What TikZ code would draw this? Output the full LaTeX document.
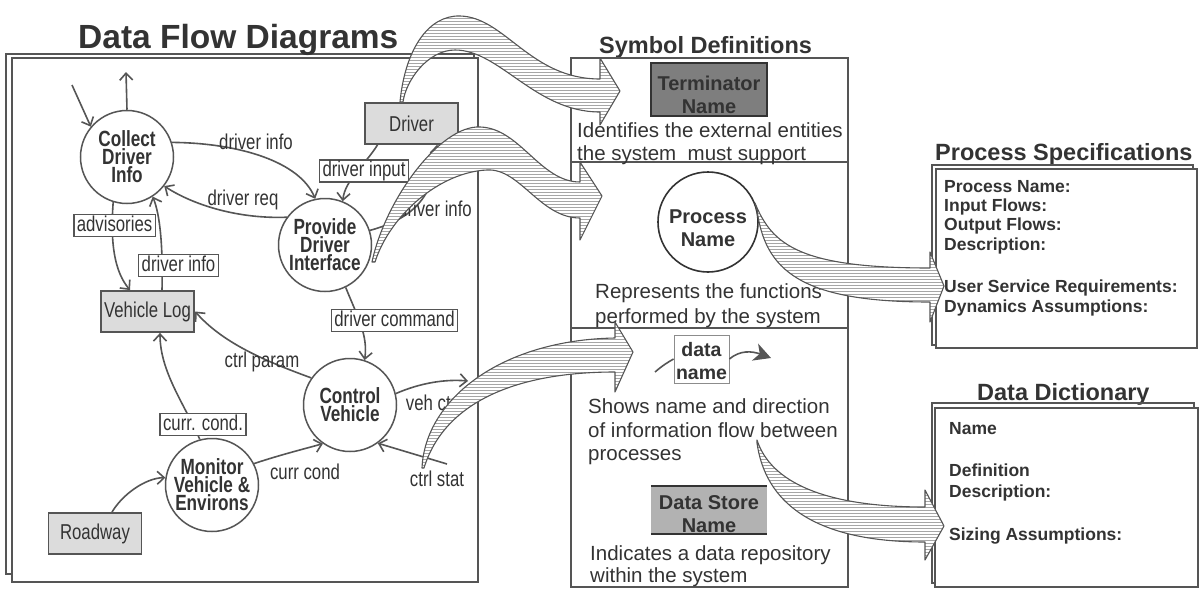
\documentclass[tikz,border=0pt]{standalone}
\usepackage{fontspec}
\setmainfont{Liberation Sans}
\newfontfamily\narrowfont[FakeStretch=0.78]{Liberation Sans}
\usetikzlibrary{arrows.meta,patterns,calc}

\definecolor{ink}{HTML}{333333}
\definecolor{lineg}{HTML}{555555}
\definecolor{boxg}{HTML}{DCDCDC}
\definecolor{termg}{HTML}{7E7E7E}
\definecolor{storeg}{HTML}{B2B2B2}

\tikzset{
  frame/.style={draw=lineg, line width=1.5pt},
  heading/.style={font=\bfseries\fontsize{23.5}{26}\selectfont, text=ink, inner sep=0pt, anchor=base west},
  proc/.style={circle, draw=lineg, line width=1.5pt, fill=white, minimum size=93pt, inner sep=0pt,
    font=\narrowfont\bfseries\fontsize{22}{18}\selectfont, align=center, text=ink},
  term/.style={rectangle, draw=lineg, line width=1.8pt, fill=boxg, minimum width=93pt, minimum height=41pt,
    font=\narrowfont\fontsize{21.5}{22}\selectfont, text=ink},
  flowlbl/.style={rectangle, draw=lineg, line width=1.5pt, fill=white, inner xsep=3pt, inner ysep=1.5pt,
    text height=15pt, text depth=4pt, font=\narrowfont\fontsize{21.5}{22}\selectfont, text=ink},
  freelbl/.style={inner sep=0pt, font=\narrowfont\fontsize{21.5}{22}\selectfont, text=ink},
  flow/.style={draw=lineg, line width=1.6pt, -{Straight Barb[length=7pt,width=13pt,line width=1.6pt]}},
  desc/.style={inner sep=0pt, anchor=base west, font=\fontsize{20.5}{23}\selectfont, text=ink},
  spec/.style={inner sep=0pt, anchor=base west, font=\bfseries\fontsize{17.5}{20}\selectfont, text=ink},
  symtext/.style={font=\bfseries\fontsize{20}{23}\selectfont, align=center, text=ink, inner sep=0pt},
  bigarrow/.style={draw=lineg, line width=1.1pt, line join=round, preaction={fill=white},
    pattern=horizontal lines, pattern color=black!35},
}

\begin{document}
\begin{tikzpicture}[x=1pt,y=-1pt]
\useasboundingbox (0,0) rectangle (1203,589);

% ---------- Data flow diagram sheet ----------
\draw[frame] (6,54) rectangle (474,574);
\draw[frame, fill=white] (12,58) rectangle (478,582);
\node[heading, font=\bfseries\fontsize{33.5}{36}\selectfont] (dfdtitle) at (78,48) {Data Flow Diagrams};

% processes
\node[proc] (cdi) at (127,157) {Collect\\Driver\\Info};
\node[proc] (pdi) at (325,245) {Provide\\Driver\\Interface};
\node[proc] (cv)  at (350,405) {Control\\Vehicle};
\node[proc] (mve) at (212,485) {Monitor\\Vehicle \&\\Environs};

% terminators and store
\node[term] (drv)  at (411.5,123.5) {Driver};
\node[term] (vlog) at (147.5,311.5) {Vehicle Log};
\node[term] (road) at (95,533.5) {Roadway};

% loose flow ends
\coordinate (cin)  at (72,85);
\coordinate (cout) at (126,72);
\coordinate (stat) at (447,464);
\coordinate (veh)  at (468,381);

% flows
\draw[flow] (cin) -- (cdi.140);
\draw[flow] (cdi.90) -- (cout);
\draw[flow] (cdi.18) .. controls (240,143) and (300,162) .. (pdi.102);
\draw[flow] (pdi.144) .. controls (240,219) and (195,206) .. (cdi.-38);
\draw[flow] ($(drv.south)+(-34,0)$) .. controls (365,165) and (345,180) .. (pdi.68);
\draw[flow] (pdi.18) .. controls (415,218) and (436,195) .. ($(drv.south)+(25.5,0)$);
\draw[flow] (cdi.-107) .. controls (110,245) and (115,272) .. ($(vlog.north)+(-17.5,0)$);
\draw[flow] ($(vlog.north)+(14.5,0)$) .. controls (163,245) and (160,215) .. (cdi.-57);
\draw[flow] (pdi.-64) .. controls (358,318) and (368,335) .. (cv.72);
\draw[flow] (cv.145) .. controls (262,360) and (222,342) .. (vlog.east);
\draw[flow] (mve.105) .. controls (185,405) and (160,372) .. ($(vlog.south)+(12.5,0)$);
\draw[flow] ($(road.north)+(17,0)$) .. controls (122,495) and (145,478) .. (mve.171);
\draw[flow] (mve.27) .. controls (280,455) and (300,450) .. (cv.-125);
\draw[flow] (stat) -- (cv.-54);
\draw[flow] (cv.14) .. controls (420,383) and (445,379) .. (veh);

% flow labels
\node[freelbl] (fdi1) at (256,142) {driver info};
\node[freelbl] (frq)  at (243,200) {driver req};
\node[freelbl] (fdi2) at (435,209) {driver info};
\node[freelbl] (fcp)  at (262,362) {ctrl param};
\node[freelbl] (fvc)  at (433,403) {veh ctrl};
\node[freelbl] (fcc)  at (305,472) {curr cond};
\node[freelbl] (fcs)  at (437,479) {ctrl stat};
\node[flowlbl] (bdin) at (364,171) {driver input};
\node[flowlbl] (badv) at (114.5,225.5) {advisories};
\node[flowlbl] (bdi)  at (178.5,265.5) {driver info};
\node[flowlbl] (bdc)  at (394.5,320.5) {driver command};
\node[flowlbl] (bcc)  at (203,424.5) {curr. cond.};

% ---------- Symbol definitions ----------
\node[heading] (symtitle) at (599,53) {Symbol Definitions};
\draw[frame, line width=1.2pt] (571,58) rectangle (848,587);
\draw[frame, line width=1.2pt] (571,162) -- (848,162);
\draw[frame, line width=1.2pt] (571,328) -- (848,328);

\node[rectangle, draw=ink, line width=1.6pt, fill=termg, minimum width=116pt, minimum height=53pt] (tbox) at (709,89.5) {};
\node[symtext] (ttxt) at (709,95) {Terminator\\Name};
\node[desc] (d1a) at (577,137) {Identifies the external entities};
\node[desc] (d1b) at (577,160) {the system\ \ must support};

\node[circle, draw=ink, line width=1.6pt, fill=white, minimum size=100pt, inner sep=0pt] (pcirc) at (708,222) {};
\node[symtext] (ptxt) at (708,228) {Process\\Name};
\node[desc] (d2a) at (595,298) {Represents the functions};
\node[desc] (d2b) at (595,323) {performed by the system};

\node[rectangle, draw=black!45, line width=0.8pt, fill=white, minimum width=55pt, minimum height=48pt] (dbox) at (701.5,359) {};
\node[symtext, font=\bfseries\fontsize{19.5}{23}\selectfont] (dtxt) at (701.5,361) {data\\name};
\coordinate (din) at (655,372);
\coordinate (dout) at (771,358);
\draw[draw=lineg, line width=1.6pt] (din) .. controls (662,366) and (668,362) .. (dbox.west);
\draw[draw=lineg, line width=1.6pt, -{Stealth[length=17pt,width=18pt,inset=5pt]}]
  (dbox.east) .. controls (740,350) and (752,351) .. (dout);
\node[desc] (d3a) at (588,413) {Shows name and direction};
\node[desc] (d3b) at (588,437) {of information flow between};
\node[desc] (d3c) at (588,460) {processes};

\node[rectangle, fill=storeg, minimum width=116pt, minimum height=48pt] (sbox) at (709,510) {};
\draw[draw=ink, line width=2pt] (sbox.north west) -- (sbox.north east);
\draw[draw=ink, line width=2pt] (sbox.south west) -- (sbox.south east);
\node[symtext] (stxt) at (709,514) {Data Store\\Name};
\node[desc] (d4a) at (590,560) {Indicates a data repository};
\node[desc] (d4b) at (590,582) {within the system};

% ---------- Process specifications ----------
\node[heading] (pstitle) at (935,160) {Process Specifications};
\draw[frame, line width=1.2pt] (932,165) rectangle (1193,345);
\draw[frame, line width=1.2pt, fill=white] (936,169) rectangle (1197,348);
\node[spec] (ps1) at (944,192) {Process Name:};
\node[spec] (ps2) at (944,211) {Input Flows:};
\node[spec] (ps3) at (944,230) {Output Flows:};
\node[spec] (ps4) at (944,250) {Description:};
\node[spec] (ps5) at (944,292) {User Service Requirements:};
\node[spec] (ps6) at (944,312) {Dynamics Assumptions:};

% ---------- Data dictionary ----------
\node[heading] (ddtitle) at (977,400) {Data Dictionary};
\draw[frame, line width=1.2pt] (932,403) rectangle (1194,583);
\draw[frame, line width=1.2pt, fill=white] (935,408) rectangle (1198,587);
\node[spec] (dd1) at (949,434) {Name};
\node[spec] (dd2) at (949,476) {Definition};
\node[spec] (dd3) at (949,497) {Description:};
\node[spec] (dd4) at (949,540) {Sizing Assumptions:};

% ---------- Hatched pointer arrows ----------
\draw[bigarrow] (400,102) .. controls (405,50) and (428,15) .. (460,16)
  .. controls (505,17) and (530,79) .. (600,79) -- (600,58) -- (620,91) -- (600,125) -- (600,112)
  .. controls (535,112) and (500,50) .. (455,50) .. controls (428,50) and (406,80) .. (403,102) -- cycle;
\draw[bigarrow] (372,262) .. controls (385,200) and (440,125) .. (480,127)
  .. controls (520,128) and (540,182) .. (580,182) -- (580,162) -- (602,196) -- (580,240) -- (580,218)
  .. controls (540,218) and (520,168) .. (487,170) .. controls (440,172) and (390,215) .. (375,262) -- cycle;
\draw[bigarrow] (422,468) .. controls (425,400) and (500,340) .. (615,338)
  -- (615,322) -- (633,352) -- (615,392) -- (615,372)
  .. controls (520,372) and (445,400) .. (424,468) -- cycle;
\draw[bigarrow] (755,203) .. controls (772,245) and (800,268) .. (930,268)
  -- (930,252) -- (944,286) -- (930,322) -- (930,302)
  .. controls (800,302) and (765,270) .. (757,210) -- cycle;
\draw[bigarrow] (757,440) .. controls (770,480) and (820,507) .. (925,507)
  -- (925,490) -- (944,526) -- (925,560) -- (925,542)
  .. controls (810,542) and (765,500) .. (757,443) -- cycle;
\end{tikzpicture}
\end{document}
